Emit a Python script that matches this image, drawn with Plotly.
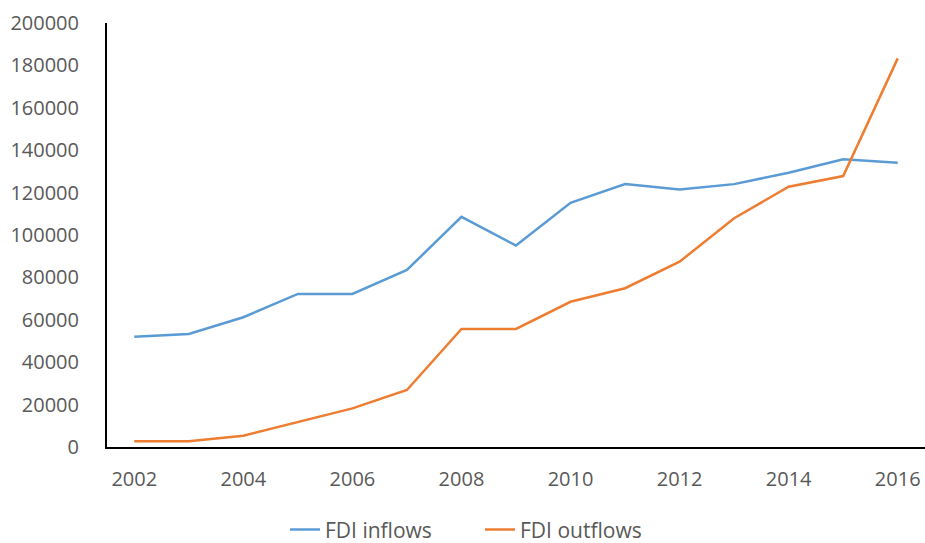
import plotly.graph_objects as go

years = list(range(2002, 2017))
fdi_inflows = [52000, 53300, 61200, 72200, 72200, 83500, 108600, 95000, 115200,
               124000, 121500, 124000, 129400, 135700, 134100]
fdi_outflows = [2700, 2700, 5300, 11900, 18200, 26900, 55700, 55700, 68500,
                74900, 87400, 107900, 122800, 127800, 183300]
y_ticks = list(range(0, 200001, 20000))
x_ticks = list(range(2002, 2017, 2))

font = "Open Sans, Liberation Sans, sans-serif"
grey = "#595959"

fig = go.Figure()
fig.add_trace(go.Scatter(x=years, y=fdi_inflows, mode="lines", name="FDI inflows",
                         line=dict(color="#5B9BD5", width=2.5)))
fig.add_trace(go.Scatter(x=years, y=fdi_outflows, mode="lines", name="FDI outflows",
                         line=dict(color="#ED7D31", width=2.5)))

fig.update_layout(
    width=925, height=543,
    margin=dict(l=107, r=0, t=23, b=96),
    paper_bgcolor="white", plot_bgcolor="white",
    font=dict(family=font, size=20, color=grey),
    showlegend=True,
    legend=dict(orientation="h", xref="container", yref="container",
                x=285 / 925, y=0.024, xanchor="left", yanchor="middle",
                font=dict(family=font, size=21, color=grey),
                entrywidth=150, entrywidthmode="pixels",
                traceorder="normal"),
    xaxis=dict(range=[2001.5, 2016.5], tickvals=x_ticks, ticktext=[str(t) for t in x_ticks],
               showgrid=False, zeroline=False, showline=True, linecolor="black", linewidth=2,
               ticks="", ticklabelstandoff=13,
               tickfont=dict(family=font, size=20, color=grey)),
    yaxis=dict(range=[0, 200000], tickvals=y_ticks, ticktext=[str(t) for t in y_ticks],
               showgrid=False, zeroline=False, showline=True, linecolor="black", linewidth=2,
               ticks="", ticklabelstandoff=22,
               tickfont=dict(family=font, size=20, color=grey)),
)

fig.write_html("out.html")
